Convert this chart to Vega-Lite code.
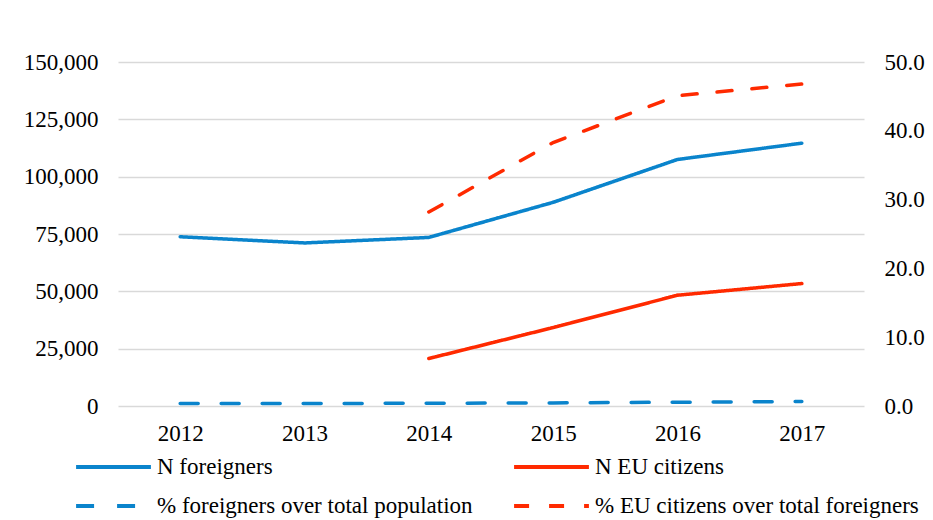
{
  "$schema": "https://vega.github.io/schema/vega-lite/v6.json",
  "width": 746,
  "height": 344,
  "autosize": {"type": "none"},
  "padding": {"left": 118, "top": 62, "right": 69, "bottom": 114},
  "background": "white",
  "config": {
    "font": "Liberation Serif",
    "view": {"stroke": null},
    "axis": {"labelFont": "Liberation Serif", "labelFontSize": 23, "labelColor": "#000", "ticks": false, "domain": false, "title": null},
    "legend": {"labelFont": "Liberation Serif", "labelFontSize": 23, "labelColor": "#000"}
  },
  "data": {
    "values": [
      {"year": "2012", "series": "N foreigners", "axis": "left", "value": 73800},
      {"year": "2013", "series": "N foreigners", "axis": "left", "value": 71100},
      {"year": "2014", "series": "N foreigners", "axis": "left", "value": 73500},
      {"year": "2015", "series": "N foreigners", "axis": "left", "value": 88800},
      {"year": "2016", "series": "N foreigners", "axis": "left", "value": 107500},
      {"year": "2017", "series": "N foreigners", "axis": "left", "value": 114600},
      {"year": "2014", "series": "N EU citizens", "axis": "left", "value": 20700},
      {"year": "2015", "series": "N EU citizens", "axis": "left", "value": 34200},
      {"year": "2016", "series": "N EU citizens", "axis": "left", "value": 48300},
      {"year": "2017", "series": "N EU citizens", "axis": "left", "value": 53400},
      {"year": "2012", "series": "% foreigners over total population", "axis": "right", "value": 0.35},
      {"year": "2013", "series": "% foreigners over total population", "axis": "right", "value": 0.35},
      {"year": "2014", "series": "% foreigners over total population", "axis": "right", "value": 0.4},
      {"year": "2015", "series": "% foreigners over total population", "axis": "right", "value": 0.45},
      {"year": "2016", "series": "% foreigners over total population", "axis": "right", "value": 0.55},
      {"year": "2017", "series": "% foreigners over total population", "axis": "right", "value": 0.65},
      {"year": "2014", "series": "% EU citizens over total foreigners", "axis": "right", "value": 28.2},
      {"year": "2015", "series": "% EU citizens over total foreigners", "axis": "right", "value": 38.3},
      {"year": "2016", "series": "% EU citizens over total foreigners", "axis": "right", "value": 45.1},
      {"year": "2017", "series": "% EU citizens over total foreigners", "axis": "right", "value": 46.8}
    ]
  },
  "encoding": {
    "x": {
      "field": "year", "type": "ordinal",
      "scale": {"type": "point", "padding": 0.5},
      "axis": {"labelAngle": 0, "labelPadding": 16, "grid": false}
    },
    "color": {
      "field": "series", "type": "nominal",
      "scale": {
        "domain": ["N foreigners", "% foreigners over total population", "N EU citizens", "% EU citizens over total foreigners"],
        "range": ["#0A84CC", "#0A84CC", "#FF2A00", "#FF2A00"]
      },
      "legend": {
        "title": null, "orient": "none", "legendX": -44, "legendY": 395,
        "columns": 2, "columnPadding": 39, "rowPadding": 16, "clipHeight": 20,
        "symbolType": "stroke", "symbolSize": 5600, "symbolStrokeWidth": 4,
        "labelOffset": 4, "labelLimit": 420
      }
    },
    "strokeDash": {
      "field": "series", "type": "nominal",
      "scale": {
        "domain": ["N foreigners", "% foreigners over total population", "N EU citizens", "% EU citizens over total foreigners"],
        "range": [[1, 0], [18, 23], [1, 0], [15, 20]]
      },
      "legend": null
    }
  },
  "layer": [
    {
      "transform": [{"filter": "datum.axis == 'left'"}],
      "mark": {"type": "line", "strokeWidth": 3.5, "strokeCap": "round"},
      "encoding": {
        "y": {
          "field": "value", "type": "quantitative",
          "scale": {"domain": [0, 150000], "nice": false},
          "axis": {"orient": "left", "values": [0, 25000, 50000, 75000, 100000, 125000, 150000], "format": ",.0f", "labelPadding": 20, "grid": true, "gridColor": "#d9d9d9", "gridWidth": 1.5}
        }
      }
    },
    {
      "transform": [{"filter": "datum.axis == 'right'"}],
      "mark": {"type": "line", "strokeWidth": 3.5, "strokeCap": "round"},
      "encoding": {
        "y": {
          "field": "value", "type": "quantitative",
          "scale": {"domain": [0, 50], "nice": false},
          "axis": {"orient": "right", "values": [0, 10, 20, 30, 40, 50], "format": ".1f", "labelPadding": 20, "grid": false}
        }
      }
    }
  ],
  "resolve": {"scale": {"y": "independent"}}
}
